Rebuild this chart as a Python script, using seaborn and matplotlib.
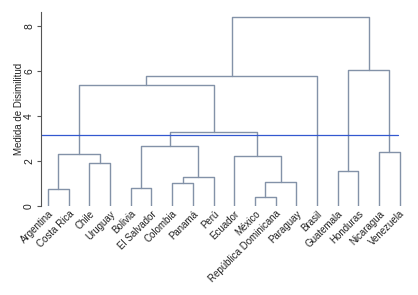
import pandas as pd
import matplotlib
matplotlib.use("Agg")
import matplotlib.pyplot as plt
import seaborn as sns

# Leaves in plotted order
paises = ["Argentina", "Costa Rica", "Chile", "Uruguay", "Bolivia", "El Salvador",
          "Colombia", "Panamá", "Perú", "Ecuador", "México", "República Dominicana",
          "Paraguay", "Brasil", "Guatemala", "Honduras", "Nicaragua", "Venezuela"]

# Merges: node ids 0..17 are leaves, new clusters get 18, 19, ...
izquierda = [10, 0, 4, 6, 18, 21, 14, 2, 9, 19, 16, 20, 29, 27, 31, 24, 32]
derecha = [11, 1, 5, 7, 12, 8, 15, 3, 22, 25, 17, 23, 26, 30, 13, 28, 33]
altura = [0.40, 0.76, 0.80, 1.02, 1.07, 1.29, 1.56, 1.90, 2.22, 2.30,
          2.40, 2.67, 3.28, 5.38, 5.78, 6.04, 8.40]

corte = 3.16
ticks_y = [0, 2, 4, 6, 8]

# Build the U-shaped links from the merge table
pos = {i: float(i) for i in range(len(paises))}
alt = {i: 0.0 for i in range(len(paises))}
filas = []
for k, (a, b, h) in enumerate(zip(izquierda, derecha, altura)):
    xa, xb = pos[a], pos[b]
    for j, (x, y) in enumerate([(xa, alt[a]), (xa, h), (xb, h), (xb, alt[b])]):
        filas.append({"enlace": k, "orden": j, "x": x, "y": y})
    nodo = len(paises) + k
    pos[nodo] = (xa + xb) / 2
    alt[nodo] = h
df = pd.DataFrame(filas)

sns.set_style("white")
plt.rcParams["font.family"] = ["Liberation Sans", "DejaVu Sans"]

fig = plt.figure(figsize=(4.18, 2.95), dpi=100)
ax = fig.add_axes([41 / 418, 89 / 295, 367 / 418, 194 / 295])

sns.lineplot(data=df, x="x", y="y", units="enlace", estimator=None, sort=False,
             color="#8392a8", linewidth=1.0, ax=ax)
ax.axhline(corte, color="#3358d0", linewidth=0.9, xmin=0, xmax=0.973)

ax.set_xlim(-0.34, 17.4)
ax.set_ylim(0, 8.62)
ax.set_xticks(range(len(paises)))
ax.set_xticklabels(paises, rotation=45, ha="right", rotation_mode="anchor", fontsize=7,
                   color="#222222")
ax.set_yticks(ticks_y)
ax.set_yticklabels([str(t) for t in ticks_y], rotation=90, va="center", fontsize=7.5,
                   color="#222222")
ax.tick_params(axis="x", length=0, pad=2)
ax.tick_params(axis="y", length=3, width=0.8, color="#555555", pad=2, left=True)
ax.set_xlabel("")
ax.set_ylabel("Medida de Disimilitud", fontsize=7, labelpad=0, color="#222222")

for lado in ["top", "right", "bottom"]:
    ax.spines[lado].set_visible(False)
ax.spines["left"].set_color("#555555")
ax.spines["left"].set_linewidth(0.8)

fig.savefig("out.png", dpi=100)
